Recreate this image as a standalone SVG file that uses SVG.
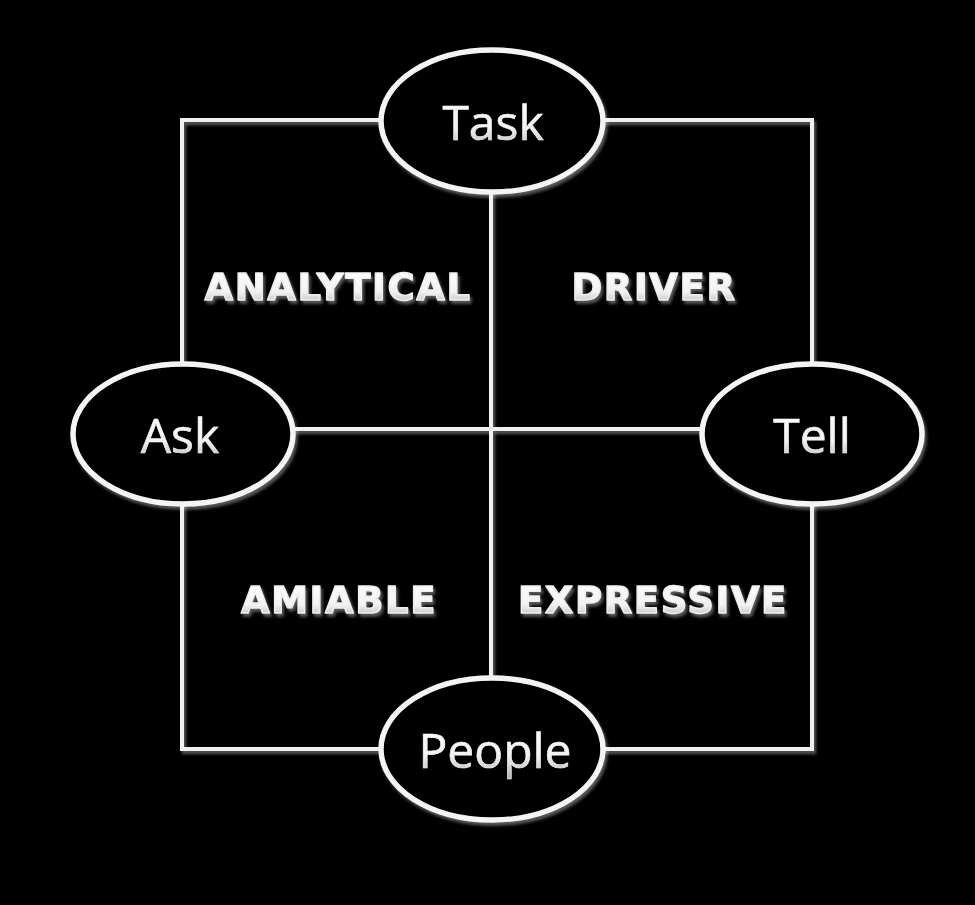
<svg xmlns="http://www.w3.org/2000/svg" width="975" height="905" viewBox="0 0 975 905">
  <defs>
    <filter id="emb" x="-10%" y="-10%" width="130%" height="130%">
      <feGaussianBlur in="SourceAlpha" stdDeviation="1.5" result="b"/>
      <feOffset in="b" dx="2" dy="2.5" result="o"/>
      <feFlood flood-color="#ffffff" flood-opacity="0.35"/>
      <feComposite in2="o" operator="in" result="s"/>
      <feMerge><feMergeNode in="s"/><feMergeNode in="SourceGraphic"/></feMerge>
    </filter>
    <linearGradient id="tg" x1="0" y1="0" x2="0" y2="1">
      <stop offset="0" stop-color="#ffffff"/>
      <stop offset="0.6" stop-color="#f2f2f2"/>
      <stop offset="1" stop-color="#a8a8a8"/>
    </linearGradient>
  </defs>
  <style>
    .ln { stroke: #f0f0f0; stroke-width: 4; fill: none; }
    .el { fill: #000; stroke: #f4f4f4; stroke-width: 5.5; }
    .nt { font-family: "Open Sans", "Liberation Sans", sans-serif; font-size: 48px; fill: url(#tg); text-anchor: middle; stroke: #f4f4f4; stroke-width: 0.6; }
    .lb { font-family: "DejaVu Sans", "Liberation Sans", sans-serif; font-weight: bold; font-size: 37px; letter-spacing: 1.6px; fill: url(#tg); stroke: #eeeeee; stroke-width: 1.4; stroke-linejoin: round; text-anchor: middle; }
  </style>
  <rect width="975" height="905" fill="#000"/>
  <g id="connectors" filter="url(#emb)">
    <rect class="ln" x="182" y="120" width="630" height="629"/>
    <line class="ln" x1="491" y1="190" x2="491" y2="680"/>
    <line class="ln" x1="293" y1="429" x2="702" y2="429"/>
  </g>
  <g id="task" filter="url(#emb)">
    <ellipse class="el" cx="492" cy="121" rx="111" ry="71"/>
    <text class="nt" x="493" y="140">Task</text>
  </g>
  <g id="ask" filter="url(#emb)">
    <ellipse class="el" cx="183" cy="434" rx="110" ry="70"/>
    <text class="nt" x="180" y="453">Ask</text>
  </g>
  <g id="tell" filter="url(#emb)">
    <ellipse class="el" cx="812" cy="434" rx="110" ry="70"/>
    <text class="nt" x="812" y="453">Tell</text>
  </g>
  <g id="people" filter="url(#emb)">
    <ellipse class="el" cx="492" cy="749" rx="111" ry="71"/>
    <text class="nt" x="495" y="768">People</text>
  </g>
  <g id="analytical" filter="url(#emb)"><text class="lb" x="338" y="300">ANALYTICAL</text></g>
  <g id="driver" filter="url(#emb)"><text class="lb" x="654" y="300">DRIVER</text></g>
  <g id="amiable" filter="url(#emb)"><text class="lb" x="339" y="613">AMIABLE</text></g>
  <g id="expressive" filter="url(#emb)"><text class="lb" x="653" y="613">EXPRESSIVE</text></g>
</svg>
